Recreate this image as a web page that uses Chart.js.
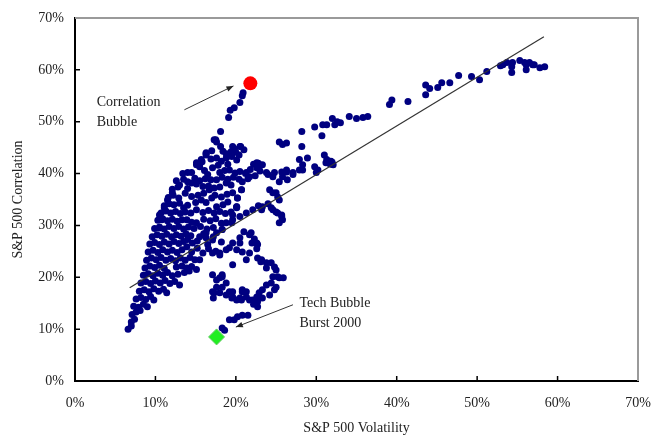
<!DOCTYPE html>
<html>
<head>
<meta charset="utf-8">
<script src="https://cdn.jsdelivr.net/npm/chart.js@4.4.1/dist/chart.umd.min.js"></script>
<style>
html,body{margin:0;padding:0;background:#fff;}
#wrap{width:654px;height:439px;}
</style>
</head>
<body>
<div id="wrap"><canvas id="c" width="654" height="439"></canvas></div>
<script>
// S&P 500 volatility (%) vs. S&P 500 correlation (%)
const xTicks = [0, 10, 20, 30, 40, 50, 60, 70];
const yTicks = [0, 10, 20, 30, 40, 50, 60, 70];

// dense low-volatility band
const mainBand = [
[6.6,10.0],[7.0,10.6],[7.0,11.4],[7.4,11.9],[7.1,12.8],[7.6,13.3],[8.1,13.6],[7.3,14.4],[7.9,14.2],[8.5,14.8],[9.0,14.3],
[7.6,15.8],[8.2,16.1],[8.8,15.7],[9.4,16.3],[9.8,15.6],[8.0,17.3],[8.6,17.6],[9.2,17.2],[9.8,17.8],[10.4,17.3],[11.0,17.7],[11.4,17.0],
[8.2,18.9],[8.8,19.2],[9.4,18.8],[10.0,19.3],[10.6,18.9],[11.2,19.4],[11.8,18.8],[12.4,19.2],[13.0,18.5],
[8.5,20.4],[9.1,20.7],[9.7,20.3],[10.3,20.8],[10.9,20.4],[11.5,20.9],[12.1,20.3],[12.8,20.6],[13.6,20.9],[14.2,21.2],
[8.7,21.8],[9.3,22.2],[9.9,21.9],[10.5,22.3],[11.1,21.7],[12.6,22.0],[13.3,22.2],[13.9,21.8],[14.5,22.1],[15.1,21.5],
[8.9,23.3],[9.5,23.7],[10.1,23.4],[10.7,23.8],[11.3,23.3],[11.9,23.6],[12.5,23.2],[13.1,23.7],[13.7,23.3],[14.3,23.8],[14.9,23.4],[15.5,23.4],
[9.1,24.9],[9.7,25.2],[10.3,24.8],[10.9,25.3],[11.5,24.9],[12.1,25.2],[12.7,24.8],[13.3,25.3],[13.9,25.9],[14.6,26.6],[14.5,24.9],[15.2,25.6],
[9.3,26.4],[9.9,26.7],[10.5,26.3],[11.1,26.8],[11.7,26.4],[12.3,26.9],[12.9,26.5],[13.5,26.9],[15.2,27.0],[14.0,27.3],
[9.6,27.8],[10.2,28.2],[10.8,27.9],[11.4,28.3],[12.0,27.8],[12.6,28.2],[13.2,27.9],[13.8,28.4],[14.4,28.0],[15.5,27.8],[16.0,28.4],
[9.9,29.4],[10.5,29.7],[11.1,29.3],[11.7,29.8],[12.3,29.4],[12.9,29.8],[13.5,29.3],[14.1,29.7],[14.8,29.4],[15.6,29.8],[16.4,29.3],[17.2,29.6],[18.3,29.2],
[10.3,31.0],[10.9,31.3],[11.5,30.9],[12.1,31.2],[12.7,30.8],[13.3,31.1],[13.9,31.1],[15.1,30.5],[16.0,31.2],[16.8,30.9],[17.5,31.3],[18.8,30.5],[19.6,31.1],[19.5,30.5],[14.5,30.6],[18.2,30.4],
[10.7,32.4],[11.3,32.8],[11.9,32.4],[12.5,32.7],[13.1,32.3],[13.7,32.6],[14.4,32.4],[15.1,33.0],[15.9,32.5],[16.6,32.9],[17.3,32.4],[18.0,32.7],[18.7,32.3],[19.4,32.6],[20.1,33.4],
[11.1,33.8],[11.7,34.2],[12.3,34.0],[13.0,34.3],[14.0,33.9],[15.0,34.4],[15.7,34.9],[16.3,34.4],[17.0,35.3],[17.6,33.6],[18.4,34.0],[19.0,34.5],[20.1,33.6],[20.2,35.3],[13.5,33.4],
[11.6,35.4],[12.2,35.8],[12.9,35.3],[14.5,35.6],[15.3,35.8],[16.0,36.2],[16.7,36.9],[17.4,35.8],[18.2,35.5],[18.9,36.0],[19.6,36.3],[20.7,36.9],[13.7,36.2],
[12.1,37.0],[12.8,37.4],[13.0,37.8],[14.5,38.2],[15.1,38.0],[15.9,37.5],[16.6,37.6],[17.3,37.2],[18.0,37.4],[18.8,38.2],[19.4,37.8],[14.0,37.1],
[12.6,38.6],[13.5,38.9],[14.9,39.1],[15.5,38.6],[16.2,39.0],[16.9,38.8],[17.6,38.8],[18.3,39.3],[19.0,38.9],[19.7,39.3],[20.4,38.9],
[13.4,40.0],[14.0,40.2],[15.5,41.3],[16.5,39.8],[17.1,41.1],[18.0,40.2],[18.6,40.6],[19.2,40.7],[19.9,40.1],[20.5,40.4],[21.2,40.0],[16.1,40.6],
[21.8,40.8],[22.4,39.6],[21.5,39.0],[22.2,41.8],[23.0,40.5],
[15.1,42.1],[15.8,42.3],[16.3,43.6],[16.9,42.8],[17.6,43.0],[18.2,42.4],[18.8,43.0],[19.5,43.3],[20.1,42.6],[17.8,41.6],[19.0,41.8],
[17.0,44.4],[18.4,44.3],[18.8,43.8],[19.4,44.2],[20.0,44.1],[20.4,43.6],[21.0,44.6],[18.1,45.2],[19.6,45.2],[20.5,45.2],[17.3,46.5],
[16.3,43.8],[15.7,42.7],[15.1,41.7],[14.5,40.2],[14.0,38.4],[12.1,36.3],[11.5,34.9],[11.1,33.4],[10.5,32.0],[10.8,31.1],[10.5,29.5],[16.3,44.0],[15.5,41.7],
[20.8,38.4],[21.7,39.4],[22.6,41.1],[23.3,41.7],[20.7,36.9],[20.2,35.3],[20.1,33.6],[19.6,32.0]
];

// 2008-style cluster between 20% and 33% volatility
const midCluster = [
[24.0,39.8],[24.8,40.2],[25.7,40.3],[26.3,40.7],[27.1,40.2],[27.9,40.7],[28.3,41.7],[25.4,38.4],[26.4,38.8],[27.9,42.7],[28.9,43.0],
[31.0,43.6],[31.3,42.7],[32.1,41.7],[29.8,41.3],[30.2,40.7],[28.3,40.7],[26.3,40.3],[25.8,39.4],[24.6,39.4],[23.8,40.2],[22.9,41.3],[22.6,42.1],
[21.3,40.2],[27.1,39.8],[30.0,40.2],[31.2,42.1],[24.6,36.3],[24.2,36.9],[25.2,35.5],[25.0,36.3],[25.4,34.9],[23.3,33.6],[22.1,33.0],[23.2,33.0],
[24.4,33.4],[25.0,32.6],[25.7,32.0],[25.8,31.1],[25.4,30.5],[25.7,31.7],[25.2,32.4],[24.6,33.0],[20.5,31.7],[21.3,32.4],[22.8,33.8],[24.0,34.2],
[25.4,46.1],[25.8,45.6],[26.3,45.9],[28.2,45.2],[28.2,48.1],[29.8,49.0],[30.7,47.3],[30.8,49.4],[31.3,49.4],[32.0,50.6],[32.6,50.0],[32.3,49.4],
[33.0,49.8],[34.1,51.0],[35.0,50.6],[35.8,50.8],[36.4,51.0],[22.8,42.0],[20.6,45.2],[19.8,44.8]
];

// high-volatility tail
const highVolTail = [
[39.1,53.3],[39.4,54.2],[41.4,53.9],[43.6,55.2],[43.6,57.1],[44.1,56.4],[45.1,56.6],[45.6,57.5],[46.6,57.5],[47.7,58.9],[49.3,58.7],[50.3,58.1],
[51.2,59.7],[53.2,61.0],[54.3,60.6],[54.3,59.5],[54.4,61.4],[55.3,61.8],[55.9,61.4],[56.1,61.0],[56.1,60.0],[56.5,61.4],[56.9,61.0],[57.1,61.0],
[57.8,60.4],[58.4,60.6],[53.7,61.4],[52.9,60.8]
];

// loops after the tech bubble burst
const techLoops = [
[15.9,24.7],[16.5,26.3],[16.3,27.6],[17.2,27.8],[17.6,28.6],[18.0,24.7],[18.3,29.2],[18.8,25.3],[19.2,25.7],[19.6,26.6],[20.1,25.3],[20.5,27.6],
[20.5,26.6],[20.8,24.9],[21.7,24.7],[21.7,28.2],[21.9,28.6],[22.0,26.6],[22.7,26.3],[21.3,23.4],[19.6,22.4],[18.0,24.3],[17.1,24.7],[16.6,25.5],
[17.5,25.0],[21.0,28.8],[22.3,27.4],[22.6,25.5],[17.1,27.2],[18.2,26.8],[16.3,28.6],
[23.2,23.4],[23.8,22.8],[24.4,22.8],[24.8,22.0],[25.0,21.4],[25.2,20.1],[24.6,20.1],[25.4,19.9],[25.9,19.9],[24.4,18.9],[23.8,18.5],[23.3,17.6],
[22.9,17.0],[22.6,16.2],[22.1,15.6],[22.7,15.3],[23.3,16.0],[24.2,16.6],[24.8,17.6],[25.0,18.1],[23.8,21.8],[23.1,23.0],[22.7,23.7],[22.6,26.6],
[21.3,17.2],[20.8,17.2],[21.7,15.6],[20.7,15.6],[20.1,15.6],[19.5,16.0],[18.8,16.6],[18.3,18.1],[18.8,18.9],[18.0,19.9],[18.3,20.5],[17.6,18.1],
[17.3,17.0],[17.2,16.0],[18.0,17.0],[19.2,17.2],[19.6,17.2],[17.1,20.5],[17.6,19.5],[18.3,20.1],[17.1,17.2],[19.6,16.2],[20.5,16.0],[21.3,16.2],[20.8,17.6],
[18.3,10.2],[18.6,9.8],[19.2,11.8],[19.8,11.8],[20.2,12.4],[20.8,12.7],[21.5,12.7],[22.2,14.8],[22.7,14.3]
];

// run-up towards the correlation bubble
const bubbleArm = [
[20.9,55.6],[20.8,55.0],[20.5,53.7],[19.8,52.7],[19.3,52.2],[19.1,50.8],[18.1,48.1],[17.5,46.5],[17.6,46.1]
];

const correlationBubble = [[21.8,57.4]];
const techBubbleBurst = [[17.6,8.5]];
const latestPoint = [[31.8,42.1]];
const trendLine = [[6.8,18.0],[58.3,66.4]];

const toXY = a => a.map(p => ({x: p[0], y: p[1]}));
const allHistory = toXY([].concat(mainBand, midCluster, highVolTail, techLoops, bubbleArm));

const SERIF = "'Liberation Serif', 'Times New Roman', serif";
const TXT = '#222';

const decor = {
  id: 'decor',
  beforeDatasetsDraw(chart) {
    const {ctx, chartArea: a} = chart;
    ctx.save();
    ctx.strokeStyle = '#9a9a9a';
    ctx.lineWidth = 2;
    ctx.beginPath();
    ctx.moveTo(a.left, a.top); ctx.lineTo(a.right, a.top); ctx.lineTo(a.right, a.bottom);
    ctx.stroke();
    // inward tick marks
    const xs = chart.scales.x, ys = chart.scales.y;
    ctx.strokeStyle = '#000';
    ctx.lineWidth = 1.5;
    ctx.beginPath();
    xTicks.forEach(v => { if (v > 0 && v < 70) { const px = xs.getPixelForValue(v); ctx.moveTo(px, a.bottom); ctx.lineTo(px, a.bottom - 5); } });
    yTicks.forEach(v => { if (v > 0 && v < 70) { const py = ys.getPixelForValue(v); ctx.moveTo(a.left, py); ctx.lineTo(a.left + 5, py); } });
    ctx.stroke();
    ctx.restore();
  },
  afterDraw(chart) {
    const {ctx} = chart;
    const xs = chart.scales.x, ys = chart.scales.y;
    const P = (x, y) => [xs.getPixelForValue(x), ys.getPixelForValue(y)];
    ctx.save();
    ctx.font = '14px ' + SERIF;
    ctx.fillStyle = TXT;
    ctx.textBaseline = 'middle';
    ctx.textAlign = 'left';
    let p = P(2.7, 53.7); ctx.fillText('Correlation', p[0], p[1]);
    p = P(2.7, 49.8); ctx.fillText('Bubble', p[0], p[1]);
    p = P(27.9, 14.9); ctx.fillText('Tech Bubble', p[0], p[1]);
    p = P(27.9, 11.2); ctx.fillText('Burst 2000', p[0], p[1]);
    const arrow = (x1, y1, x2, y2) => {
      const a = P(x1, y1), b = P(x2, y2);
      const ang = Math.atan2(b[1] - a[1], b[0] - a[0]);
      ctx.strokeStyle = '#333';
      ctx.lineWidth = 1;
      ctx.beginPath(); ctx.moveTo(a[0], a[1]); ctx.lineTo(b[0], b[1]); ctx.stroke();
      ctx.fillStyle = '#222';
      ctx.beginPath();
      ctx.moveTo(b[0], b[1]);
      ctx.lineTo(b[0] - 7 * Math.cos(ang) + 2.8 * Math.sin(ang), b[1] - 7 * Math.sin(ang) - 2.8 * Math.cos(ang));
      ctx.lineTo(b[0] - 7 * Math.cos(ang) - 2.8 * Math.sin(ang), b[1] - 7 * Math.sin(ang) + 2.8 * Math.cos(ang));
      ctx.closePath(); ctx.fill();
    };
    arrow(13.6, 52.3, 19.7, 56.9);
    arrow(27.1, 14.7, 20.0, 10.4);
    ctx.restore();
  }
};

new Chart(document.getElementById('c'), {
  type: 'scatter',
  data: {
    datasets: [
      { label: 'Correlation Bubble', data: toXY(correlationBubble), pointRadius: 7, backgroundColor: '#ff0000', borderWidth: 0 },
      { label: 'Tech Bubble Burst 2000', data: toXY(techBubbleBurst), pointStyle: 'rectRot', pointRadius: 8, backgroundColor: '#22ee22', borderColor: '#66cc66', borderWidth: 1 },
      { type: 'line', label: 'Trend', data: toXY(trendLine), borderColor: '#333', borderWidth: 1.2, pointRadius: 0, fill: false },
      { label: 'Latest', data: toXY(latestPoint), pointRadius: 5, backgroundColor: '#000080', borderWidth: 0 },
      { label: 'History', data: allHistory, pointRadius: 3.5, backgroundColor: '#000080', borderWidth: 0 }
    ]
  },
  options: {
    responsive: false,
    animation: false,
    devicePixelRatio: 1,
    layout: { padding: { left: 0, right: 16, top: 18, bottom: 0 } },
    plugins: { legend: { display: false }, tooltip: { enabled: false } },
    elements: { point: { hoverRadius: 0 } },
    scales: {
      x: {
        type: 'linear', min: 0, max: 70,
        afterBuildTicks: s => { s.ticks = xTicks.map(v => ({value: v})); },
        ticks: { callback: v => v + '%', font: { family: SERIF, size: 14 }, color: TXT, padding: 14, maxRotation: 0 },
        grid: { display: false, drawTicks: false },
        border: { display: true, color: '#000', width: 2 },
        title: { display: true, text: 'S&P 500 Volatility', font: { family: SERIF, size: 14 }, color: TXT, padding: { top: 0, bottom: 2 } },
        afterFit: s => { s.height = 58; s.paddingLeft = 0; s.paddingRight = 0; }
      },
      y: {
        type: 'linear', min: 0, max: 70,
        afterBuildTicks: s => { s.ticks = yTicks.map(v => ({value: v})); },
        ticks: { callback: v => v + '%', font: { family: SERIF, size: 14 }, color: TXT, padding: 11 },
        grid: { display: false, drawTicks: false },
        border: { display: true, color: '#000', width: 2 },
        title: { display: true, text: 'S&P 500 Correlation', font: { family: SERIF, size: 14 }, color: TXT, padding: { top: 10, bottom: 0 } },
        afterFit: s => { s.width = 75; s.paddingTop = 0; s.paddingBottom = 0; }
      }
    }
  },
  plugins: [decor]
});
</script>
</body>
</html>
